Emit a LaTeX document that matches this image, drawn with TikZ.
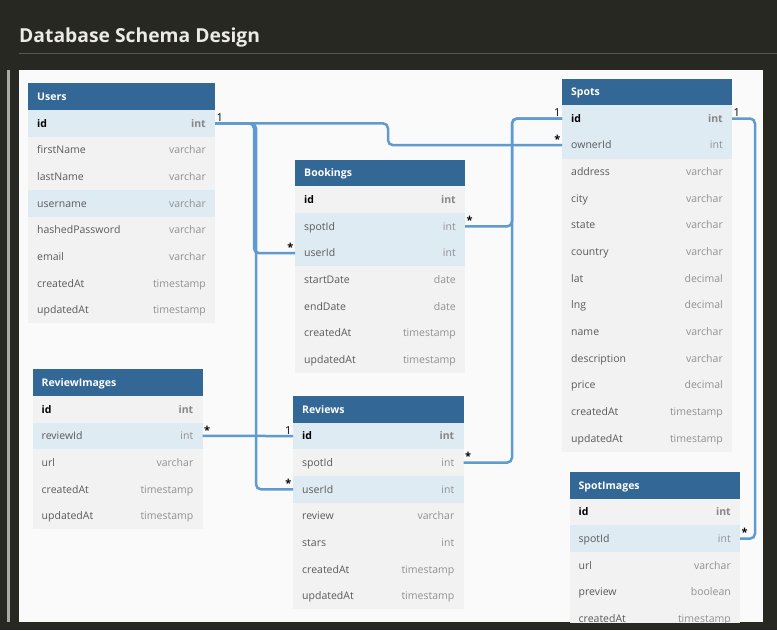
\documentclass[tikz,border=0pt]{standalone}
\usepackage{fontspec}
\setmainfont{Open Sans}
\usetikzlibrary{calc}
\definecolor{bgdark}{RGB}{40,40,35}
\definecolor{panelbg}{RGB}{250,250,251}
\definecolor{barcol}{RGB}{170,170,165}
\definecolor{titleline}{RGB}{88,88,82}
\definecolor{titletext}{RGB}{235,235,228}
\definecolor{hdrblue}{RGB}{50,103,150}
\definecolor{rowhl}{RGB}{222,235,243}
\definecolor{rownorm}{RGB}{242,242,242}
\definecolor{fieldgray}{RGB}{90,90,90}
\definecolor{typegray}{RGB}{145,145,145}
\definecolor{idtype}{RGB}{135,135,135}
\definecolor{connblue}{RGB}{96,155,208}
\tikzset{
  rowbox/.style={rectangle,inner sep=0pt,outer sep=0pt,minimum height=26.67pt,anchor=north west,fill=rownorm},
  hl/.style={fill=rowhl},
  hdr/.style={rectangle,inner sep=0pt,outer sep=0pt,minimum height=26.67pt,anchor=north west,fill=hdrblue},
  hdrtxt/.style={anchor=base west,inner sep=0pt,font=\fontsize{10.5}{12}\selectfont\bfseries,text=white},
  fieldtxt/.style={anchor=base west,inner sep=0pt,font=\fontsize{10.5}{12}\selectfont,text=fieldgray},
  typetxt/.style={anchor=base east,inner sep=0pt,font=\fontsize{10.5}{12}\selectfont,text=typegray},
  conn/.style={draw=connblue,line width=2.5pt,rounded corners=5pt},
  lbl/.style={font=\fontsize{11}{12}\selectfont,text=black,inner sep=1.5pt},
}
\newcommand\dbhead[5]{%
  \node[hdr,minimum width=#4pt] (#1) at (#2,#3) {};
  \node[hdrtxt] at ([xshift=9pt,yshift=-3.8pt]#1.west) {#5};}
\newcommand\dbrow[8]{%
  \node[rowbox,minimum width=#4pt,#6] (#1) at (#2,#3+26.667*#5) {};
  \node[fieldtxt] at ([xshift=9pt,yshift=-3.8pt]#1.west) {#7};
  \node[typetxt] at ([xshift=-9pt,yshift=-3.8pt]#1.east) {#8};}
\newcommand\idf{\color{black}\bfseries id}
\newcommand\idt{\color{idtype}\bfseries int}
\begin{document}
\begin{tikzpicture}[x=1pt,y=-1pt]
\useasboundingbox (0,0) rectangle (777,630);
\fill[bgdark] (0,0) rectangle (777,630);
\node[anchor=base west,inner sep=0pt,text=titletext,font=\fontsize{19.3}{23}\selectfont\bfseries] (title) at (19,42) {Database Schema Design};
\draw[titleline,line width=1pt] (19,53) -- (777,53);
\fill[barcol] (7,70) rectangle (10,622);
\fill[panelbg] (19,70) rectangle (763,622);
\begin{scope}
\clip (19,70) rectangle (763,622);
% Users
\dbhead{users}{28}{83.3}{187}{Users}
\dbrow{users-id}{28}{83.3}{187}{1}{hl}{\idf}{\idt}
\dbrow{users-first}{28}{83.3}{187}{2}{}{firstName}{varchar}
\dbrow{users-last}{28}{83.3}{187}{3}{}{lastName}{varchar}
\dbrow{users-username}{28}{83.3}{187}{4}{hl}{username}{varchar}
\dbrow{users-hash}{28}{83.3}{187}{5}{}{hashedPassword}{varchar}
\dbrow{users-email}{28}{83.3}{187}{6}{}{email}{varchar}
\dbrow{users-created}{28}{83.3}{187}{7}{}{createdAt}{timestamp}
\dbrow{users-updated}{28}{83.3}{187}{8}{}{updatedAt}{timestamp}
% Bookings
\dbhead{bookings}{295}{159.8}{170}{Bookings}
\dbrow{bookings-id}{295}{159.8}{170}{1}{}{\idf}{\idt}
\dbrow{bookings-spotid}{295}{159.8}{170}{2}{hl}{spotId}{int}
\dbrow{bookings-userid}{295}{159.8}{170}{3}{hl}{userId}{int}
\dbrow{bookings-start}{295}{159.8}{170}{4}{}{startDate}{date}
\dbrow{bookings-end}{295}{159.8}{170}{5}{}{endDate}{date}
\dbrow{bookings-created}{295}{159.8}{170}{6}{}{createdAt}{timestamp}
\dbrow{bookings-updated}{295}{159.8}{170}{7}{}{updatedAt}{timestamp}
% Spots
\dbhead{spots}{562}{78.5}{170}{Spots}
\dbrow{spots-id}{562}{78.5}{170}{1}{hl}{\idf}{\idt}
\dbrow{spots-ownerid}{562}{78.5}{170}{2}{hl}{ownerId}{int}
\dbrow{spots-address}{562}{78.5}{170}{3}{}{address}{varchar}
\dbrow{spots-city}{562}{78.5}{170}{4}{}{city}{varchar}
\dbrow{spots-state}{562}{78.5}{170}{5}{}{state}{varchar}
\dbrow{spots-country}{562}{78.5}{170}{6}{}{country}{varchar}
\dbrow{spots-lat}{562}{78.5}{170}{7}{}{lat}{decimal}
\dbrow{spots-lng}{562}{78.5}{170}{8}{}{lng}{decimal}
\dbrow{spots-name}{562}{78.5}{170}{9}{}{name}{varchar}
\dbrow{spots-desc}{562}{78.5}{170}{10}{}{description}{varchar}
\dbrow{spots-price}{562}{78.5}{170}{11}{}{price}{decimal}
\dbrow{spots-created}{562}{78.5}{170}{12}{}{createdAt}{timestamp}
\dbrow{spots-updated}{562}{78.5}{170}{13}{}{updatedAt}{timestamp}
% ReviewImages
\dbhead{reviewimages}{32.5}{369.3}{170}{ReviewImages}
\dbrow{reviewimages-id}{32.5}{369.3}{170}{1}{}{\idf}{\idt}
\dbrow{reviewimages-reviewid}{32.5}{369.3}{170}{2}{hl}{reviewId}{int}
\dbrow{reviewimages-url}{32.5}{369.3}{170}{3}{}{url}{varchar}
\dbrow{reviewimages-created}{32.5}{369.3}{170}{4}{}{createdAt}{timestamp}
\dbrow{reviewimages-updated}{32.5}{369.3}{170}{5}{}{updatedAt}{timestamp}
% Reviews
\dbhead{reviews}{293}{396}{170.5}{Reviews}
\dbrow{reviews-id}{293}{396}{170.5}{1}{hl}{\idf}{\idt}
\dbrow{reviews-spotid}{293}{396}{170.5}{2}{}{spotId}{int}
\dbrow{reviews-userid}{293}{396}{170.5}{3}{hl}{userId}{int}
\dbrow{reviews-review}{293}{396}{170.5}{4}{}{review}{varchar}
\dbrow{reviews-stars}{293}{396}{170.5}{5}{}{stars}{int}
\dbrow{reviews-created}{293}{396}{170.5}{6}{}{createdAt}{timestamp}
\dbrow{reviews-updated}{293}{396}{170.5}{7}{}{updatedAt}{timestamp}
% SpotImages
\dbhead{spotimages}{569.5}{472}{170.5}{SpotImages}
\dbrow{spotimages-id}{569.5}{472}{170.5}{1}{}{\idf}{\idt}
\dbrow{spotimages-spotid}{569.5}{472}{170.5}{2}{hl}{spotId}{int}
\dbrow{spotimages-url}{569.5}{472}{170.5}{3}{}{url}{varchar}
\dbrow{spotimages-preview}{569.5}{472}{170.5}{4}{}{preview}{boolean}
\dbrow{spotimages-created}{569.5}{472}{170.5}{5}{}{createdAt}{timestamp}
% junction columns
\coordinate (ja) at (388,0);
\coordinate (jb) at (254,0);
\coordinate (jc) at (256,0);
\coordinate (jd) at (512,0);
\coordinate (je) at (755,0);
% connectors
\draw[conn] (users-id.east) -| (ja |- spots-ownerid.west) -- (spots-ownerid.west);
\draw[conn] (users-id.east) -| (jb |- bookings-userid.west) -- (bookings-userid.west);
\draw[conn] (users-id.east) -| (jc |- reviews-userid.west) -- (reviews-userid.west);
\draw[conn] (spots-id.west) -| (jd |- bookings-spotid.east) -- (bookings-spotid.east);
\draw[conn] (spots-id.west) -| (jd |- reviews-spotid.east) -- (reviews-spotid.east);
\draw[conn] (spots-id.east) -| (je |- spotimages-spotid.east) -- (spotimages-spotid.east);
\draw[conn] (reviewimages-reviewid.east) -- (reviews-id.west);
% cardinality labels
\node[lbl,anchor=south west] (l1) at (users-id.east) {1};
\node[lbl,anchor=south east] (l2) at (spots-ownerid.west) {\bfseries *};
\node[lbl,anchor=south east] (l3) at (bookings-userid.west) {\bfseries *};
\node[lbl,anchor=south east] (l4) at (reviews-userid.west) {\bfseries *};
\node[lbl,anchor=south east] (l5) at (spots-id.west) {1};
\node[lbl,anchor=south west] (l6) at (bookings-spotid.east) {\bfseries *};
\node[lbl,anchor=south west] (l7) at (reviews-spotid.east) {\bfseries *};
\node[lbl,anchor=south west] (l8) at (spots-id.east) {1};
\node[lbl,anchor=south west] (l9) at (spotimages-spotid.east) {\bfseries *};
\node[lbl,anchor=south west] (l10) at (reviewimages-reviewid.east) {\bfseries *};
\node[lbl,anchor=south east] (l11) at (reviews-id.west) {1};
\end{scope}
\end{tikzpicture}
\end{document}
